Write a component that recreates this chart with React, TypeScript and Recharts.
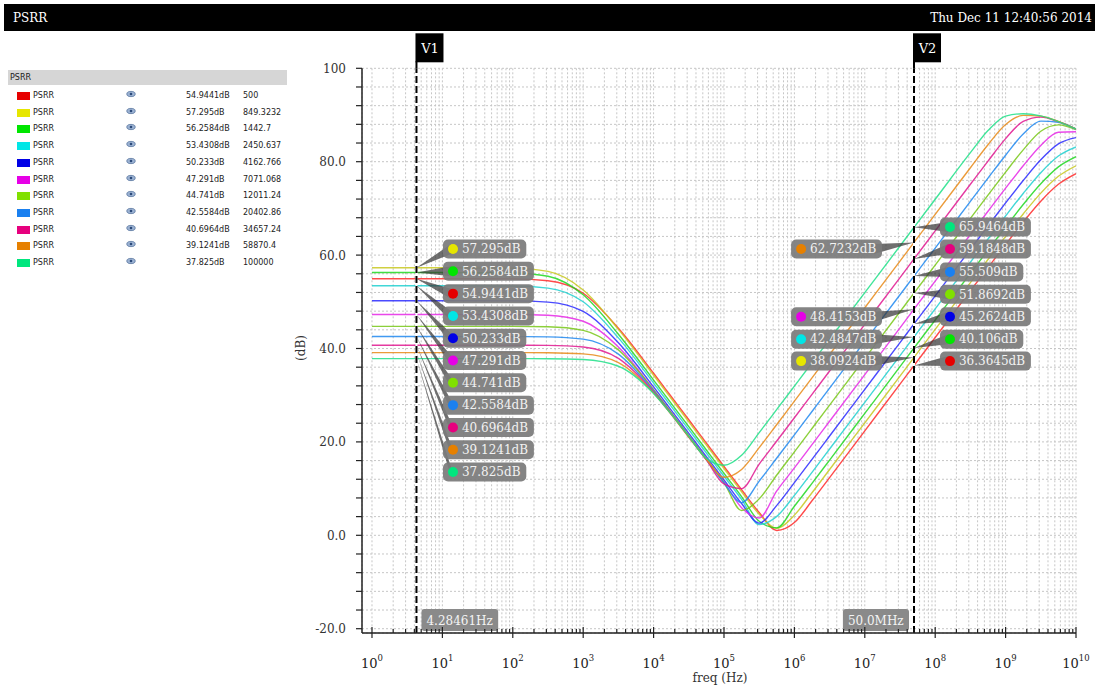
import React from 'react';
import { LineChart, Line, XAxis, YAxis, CartesianGrid, ReferenceLine, ReferenceDot } from 'recharts';

// ---------- data ----------
const freqHz = [1, 10, 100, 316.23, 1000, 3162.3, 10000, 17783, 31623, 56234, 100000, 177828, 316228, 562341,
  1000000, 1778279, 3162278, 10000000, 31622777, 50000000, 100000000, 316227766, 562341325, 1000000000,
  1778279410, 3162277660, 5623413252, 10000000000];

const psrrRed = [54.94, 54.94, 54.90, 54.51, 51.83, 44.34, 34.70, 29.72, 24.74, 19.74, 14.74, 9.75, 4.87, 1.04, 2.74, 7.40, 12.36, 22.36, 32.36, 36.36, 42.36, 52.36, 57.33, 62.27, 67.08, 71.54, 75.16, 77.44];
const psrrYellow = [57.30, 57.30, 57.21, 56.51, 52.54, 44.09, 34.28, 29.30, 24.30, 19.30, 14.30, 9.31, 4.51, 1.50, 4.32, 9.11, 14.09, 24.09, 34.09, 38.09, 44.09, 54.09, 59.06, 64.00, 68.81, 73.27, 76.87, 79.13];
const psrrGreen = [56.26, 56.26, 56.17, 55.47, 51.50, 43.05, 33.24, 28.26, 23.26, 18.26, 13.26, 8.30, 3.00, 1.60, 6.23, 11.12, 16.11, 26.11, 36.11, 40.11, 46.11, 56.11, 61.08, 66.02, 70.83, 75.28, 78.89, 81.07];
const psrrCyan = [53.43, 53.43, 53.38, 52.94, 50.00, 42.28, 32.60, 27.62, 22.63, 17.63, 12.64, 7.71, 2.30, 4.05, 8.54, 13.49, 18.48, 28.48, 38.48, 42.48, 48.48, 58.47, 63.45, 68.39, 73.20, 77.65, 81.21, 83.16];
const psrrBlue = [50.23, 50.23, 50.20, 49.94, 47.95, 41.24, 31.77, 26.81, 21.82, 16.83, 11.85, 6.80, 2.60, 6.40, 11.28, 16.26, 21.26, 31.26, 41.26, 45.26, 51.26, 61.25, 66.23, 71.17, 75.97, 80.41, 83.81, 85.15];
const psrrMagenta = [47.29, 47.29, 47.27, 47.12, 45.83, 40.32, 31.18, 26.26, 21.27, 16.29, 11.34, 5.90, 3.70, 9.53, 14.43, 19.42, 24.42, 34.42, 44.42, 48.42, 54.42, 64.41, 69.39, 74.33, 79.12, 83.48, 86.30, 86.41];
const psrrYellowGreen = [44.74, 44.74, 44.73, 44.65, 43.88, 39.71, 31.14, 26.28, 21.32, 16.33, 11.30, 5.30, 7.80, 12.92, 17.88, 22.87, 27.87, 37.87, 47.87, 51.87, 57.87, 67.87, 72.84, 77.78, 82.53, 86.51, 87.89, 86.87];
const psrrLightBlue = [42.56, 42.56, 42.55, 42.50, 42.00, 38.79, 30.86, 26.06, 21.13, 16.14, 11.20, 7.00, 11.60, 16.55, 21.51, 26.51, 31.51, 41.51, 51.51, 55.51, 61.51, 71.51, 76.48, 81.39, 85.93, 88.69, 88.45, 86.97];
const psrrPink = [40.70, 40.70, 40.70, 40.66, 40.32, 37.89, 30.65, 25.95, 21.05, 16.15, 11.00, 10.00, 15.25, 20.20, 25.18, 30.18, 35.18, 45.18, 55.18, 59.18, 65.18, 75.18, 80.13, 84.94, 88.63, 89.55, 88.57, 87.00];
const psrrOrange = [39.12, 39.12, 39.12, 39.09, 38.85, 37.00, 30.48, 25.91, 21.05, 16.23, 12.42, 14.10, 18.76, 23.72, 28.72, 33.72, 38.72, 48.72, 58.72, 62.72, 68.72, 78.71, 83.63, 87.95, 89.92, 89.75, 88.62, 87.00];
const psrrMint = [37.83, 37.83, 37.83, 37.81, 37.64, 36.20, 30.37, 25.94, 21.17, 16.47, 15.00, 17.14, 21.98, 26.95, 31.95, 36.95, 41.95, 51.95, 61.95, 65.95, 71.95, 81.93, 86.66, 89.76, 90.28, 89.80, 88.60, 87.00];

const seriesData = [psrrRed, psrrYellow, psrrGreen, psrrCyan, psrrBlue, psrrMagenta, psrrYellowGreen, psrrLightBlue, psrrPink, psrrOrange, psrrMint];

// marker readouts
const markerV1 = [54.9441, 57.295, 56.2584, 53.4308, 50.233, 47.291, 44.741, 42.5584, 40.6964, 39.1241, 37.825];
const markerV2 = [36.3645, 38.0924, 40.106, 42.4847, 45.2624, 48.4153, 51.8692, 55.509, 59.1848, 62.7232, 65.9464];
const sweepParam = ['500', '849.3232', '1442.7', '2450.637', '4162.766', '7071.068', '12011.24', '20402.86', '34657.24', '58870.4', '100000'];

const V1_FREQ = 4.28461;
const V2_FREQ = 50000000;
const V1_TEXT = '4.28461Hz';
const V2_TEXT = '50.0MHz';

const decades = [1, 10, 100, 1000, 10000, 100000, 1000000, 10000000, 100000000, 1000000000];
const yTicks = [-20, -16, -12, -8, -4, 0, 4, 8, 12, 16, 20, 24, 28, 32, 36, 40, 44, 48, 52, 56, 60, 64, 68, 72, 76, 80, 84, 88, 92, 96, 100];

// ---------- styles / layout ----------
const lineColors = ['#ff2a2a', '#c8c820', '#20d820', '#20d0d0', '#2a2aff', '#e628e6', '#78c818', '#2088f0', '#e01890', '#e88a18', '#20e088'];
const swatchColors = ['#e60000', '#e6e600', '#00e600', '#00e6e6', '#0000e6', '#e600e6', '#80e000', '#1a80f0', '#e6007e', '#e68000', '#00e67e'];
const X_DOMAIN: [number, number] = [0.7213, 10000000000];
const Y_DOMAIN: [number, number] = [-20.92, 100];
const SERIF = 'DejaVu Serif';

const V1_LABEL_F = 10.2;
const V2_RIGHT_F = 117000000;
const V2_LEFT_F = 17550000;
const V1_ROW_TOP = 61.3;
const ROW_STEP = 4.775;
const V2_ROWS = [66.0, 61.3, 56.4, 51.6, 46.8, 42.0, 37.3];
const v2Side = ['right', 'left', 'right', 'left', 'right', 'left', 'right', 'right', 'right', 'left', 'right'];
const v2Row = [6, 6, 5, 5, 4, 4, 3, 2, 1, 1, 0];

const xTicks: number[] = [];
decades.forEach((d) => { for (let k = 1; k <= 9; k++) xTicks.push(d * k); });
xTicks.push(10000000000);

const rows = freqHz.map((f, i) => {
  const r: any = { f };
  seriesData.forEach((s, k) => { r['s' + k] = s[i]; });
  return r;
});

const CHAR_W: Record<string, number> = { '.': 3.8, d: 7.7, B: 8.8, H: 10.4, z: 6.9, M: 12.2 };
const textW = (s: string) => Array.from(s).reduce((a, c) => a + (CHAR_W[c] ?? 7.6), 0);

const XTick = (props: any) => {
  const { x, y, payload } = props;
  const v = payload.value;
  const e = Math.round(Math.log10(v));
  const isDecade = Math.abs(v - Math.pow(10, e)) < 1e-6 * v;
  return (
    <g>
      <line x1={x} x2={x} y1={isDecade ? y - 6 : y - 4} y2={isDecade ? y + 5 : y} stroke="#222" strokeWidth={1.2} />
      {isDecade && (
        <text x={x} y={y + 35} textAnchor="middle" fontFamily={SERIF} fontSize={13} fill="#222">
          <tspan>10</tspan>
          <tspan dy={-7} fontSize={8.5}>{e}</tspan>
        </text>
      )}
    </g>
  );
};

const YTick = (props: any) => {
  const { x, y, payload } = props;
  const v = payload.value;
  return (
    <g>
      <line x1={x - 6} x2={x} y1={y} y2={y} stroke="#222" strokeWidth={1.2} />
      {v % 20 === 0 && (
        <text x={x - 16} y={y + 4.5} textAnchor="end" fontFamily={SERIF} fontSize={12} fill="#333">
          {v === 100 ? '100' : v.toFixed(1)}
        </text>
      )}
    </g>
  );
};

const makeWedge = (side: string) => (p: any) => {
  const { x1, y1, x2, y2 } = p;
  const bx = side === 'right' ? x2 + 8 : x2 - 8;
  return <polygon points={`${x1},${y1} ${bx},${y2 - 5} ${bx},${y2 + 5}`} fill="rgba(55,55,55,0.72)" />;
};

const makeBox = (k: number, side: string, text: string) => (p: any) => {
  const { cx, cy } = p;
  const w = 19 + textW(text) + 6;
  const left = side === 'right' ? cx : cx - w;
  return (
    <g>
      <rect x={left} y={cy - 9.5} width={w} height={19} rx={5} fill="#7b7b7b" fillOpacity={0.93} />
      <circle cx={left + 10} cy={cy} r={5} fill={swatchColors[k]} />
      <text x={left + 19} y={cy + 4.3} fontFamily={SERIF} fontSize={12} fill="#f2f2f2">{text}</text>
    </g>
  );
};

const makeTab = (name: string) => (p: any) => {
  const { cx, cy } = p;
  return (
    <g>
      <line x1={cx} x2={cx} y1={cy - 7} y2={cy} stroke="#000" strokeWidth={2} />
      <rect x={cx - 1} y={cy - 35} width={28} height={29} fill="#000" />
      <text x={cx + 13.5} y={cy - 15} textAnchor="middle" fontFamily={SERIF} fontSize={13} fill="#fff">{name}</text>
    </g>
  );
};

const makeBottom = (text: string, side: string) => (p: any) => {
  const { cx, cy } = p;
  const w = textW(text) + 10;
  const left = side === 'right' ? cx + 5 : cx - 5 - w;
  return (
    <g>
      <rect x={left} y={cy - 24} width={w} height={22} rx={3} fill="#8a8a8a" />
      <text x={left + 5} y={cy - 8.5} fontFamily={SERIF} fontSize={12} fill="#f4f4f4">{text}</text>
    </g>
  );
};

const v1Order = markerV1.map((v, k) => k).sort((a, b) => markerV1[b] - markerV1[a]);

function Legend() {
  return (
    <div style={{ position: 'absolute', left: 8, top: 70, width: 279, fontFamily: 'DejaVu Sans', fontSize: 8, color: '#222', lineHeight: '1' }}>
      <div style={{ position: 'absolute', left: 0, top: 0, width: 279, height: 15, background: '#d6d6d6' }}>
        <span style={{ position: 'absolute', left: 2, top: 4 }}>PSRR</span>
      </div>
      {markerV1.map((v, k) => {
        const top = 26 + k * 16.7;
        return (
          <div key={k} style={{ position: 'absolute', left: 0, top, width: 279, height: 10 }}>
            <div style={{ position: 'absolute', left: 9, top: -4, width: 13, height: 8, background: swatchColors[k] }} />
            <span style={{ position: 'absolute', left: 25, top: -4 }}>PSRR</span>
            <svg style={{ position: 'absolute', left: 118, top: -6 }} width={10} height={8}>
              <ellipse cx={5} cy={4} rx={4.2} ry={2.6} fill="#9db3d3" stroke="#56739e" strokeWidth={0.8} />
              <circle cx={5} cy={4} r={1.3} fill="#2b4a7a" />
            </svg>
            <span style={{ position: 'absolute', left: 178, top: -4 }}>{v + 'dB'}</span>
            <span style={{ position: 'absolute', left: 235, top: -4 }}>{sweepParam[k]}</span>
          </div>
        );
      })}
    </div>
  );
}

export default function App() {
  return (
    <div style={{ position: 'absolute', left: 0, top: 0, width: 1099, height: 689, background: '#fff', overflow: 'hidden' }}>
      <LineChart width={1099} height={689} data={rows} margin={{ top: 68.3, right: 23, bottom: 16, left: 302 }}>
        <CartesianGrid stroke="#c6c6c6" strokeDasharray="2 2" />
        <XAxis dataKey="f" type="number" scale="log" domain={X_DOMAIN} allowDataOverflow ticks={xTicks} interval={0}
          tick={(p: any) => <XTick {...p} />} tickLine={false} tickSize={0} tickMargin={0}
          axisLine={{ stroke: '#222', strokeWidth: 1.5 }} height={40} />
        <YAxis type="number" domain={Y_DOMAIN} allowDataOverflow ticks={yTicks} interval={0}
          tick={(p: any) => <YTick {...p} />} tickLine={false} tickSize={0} tickMargin={0}
          axisLine={{ stroke: '#222', strokeWidth: 1.5 }} width={60} />
        {seriesData.map((_, k) => (
          <Line key={k} dataKey={'s' + k} stroke={lineColors[k]} strokeWidth={1.4} strokeOpacity={0.85}
            dot={false} type="monotone" isAnimationActive={false} />
        ))}
        <ReferenceLine x={V1_FREQ} stroke="#fff" strokeWidth={2} />
        <ReferenceLine x={V1_FREQ} stroke="#000" strokeWidth={2} strokeDasharray="7 3" />
        <ReferenceLine x={V2_FREQ} stroke="#fff" strokeWidth={2} />
        <ReferenceLine x={V2_FREQ} stroke="#000" strokeWidth={2} strokeDasharray="7 3" />
        <ReferenceDot x={V1_FREQ} y={Y_DOMAIN[1]} ifOverflow="visible" shape={makeTab('V1')} />
        <ReferenceDot x={V2_FREQ} y={Y_DOMAIN[1]} ifOverflow="visible" shape={makeTab('V2')} />
        <ReferenceDot x={V1_FREQ} y={Y_DOMAIN[0]} ifOverflow="visible" shape={makeBottom(V1_TEXT, 'right')} />
        <ReferenceDot x={V2_FREQ} y={Y_DOMAIN[0]} ifOverflow="visible" shape={makeBottom(V2_TEXT, 'left')} />
        {v1Order.map((k, i) => (
          <ReferenceLine key={'w1' + k} segment={[{ x: V1_FREQ, y: markerV1[k] }, { x: V1_LABEL_F, y: V1_ROW_TOP - i * ROW_STEP }]}
            shape={makeWedge('right')} ifOverflow="visible" />
        ))}
        {markerV2.map((v, k) => (
          <ReferenceLine key={'w2' + k} segment={[{ x: V2_FREQ, y: v }, { x: v2Side[k] === 'right' ? V2_RIGHT_F : V2_LEFT_F, y: V2_ROWS[v2Row[k]] }]}
            shape={makeWedge(v2Side[k])} ifOverflow="visible" />
        ))}
        {v1Order.map((k, i) => (
          <ReferenceDot key={'b1' + k} x={V1_LABEL_F} y={V1_ROW_TOP - i * ROW_STEP} ifOverflow="visible"
            shape={makeBox(k, 'right', markerV1[k] + 'dB')} />
        ))}
        {markerV2.map((v, k) => (
          <ReferenceDot key={'b2' + k} x={v2Side[k] === 'right' ? V2_RIGHT_F : V2_LEFT_F} y={V2_ROWS[v2Row[k]]} ifOverflow="visible"
            shape={makeBox(k, v2Side[k], v + 'dB')} />
        ))}
      </LineChart>

      <div style={{ position: 'absolute', left: 4, top: 4, width: 1091, height: 27, background: '#000', fontFamily: SERIF, fontSize: 12, color: '#fff', lineHeight: '1' }}>
        <span style={{ position: 'absolute', left: 9, top: 8 }}>PSRR</span>
        <span style={{ position: 'absolute', right: 3, top: 8 }}>Thu Dec 11 12:40:56 2014</span>
      </div>

      <Legend />

      <div style={{ position: 'absolute', left: 281, top: 340, width: 40, height: 16, textAlign: 'center', transform: 'rotate(-90deg)', fontFamily: SERIF, fontSize: 12, color: '#333', lineHeight: '16px' }}>(dB)</div>
      <div style={{ position: 'absolute', left: 670, top: 672, width: 100, textAlign: 'center', fontFamily: SERIF, fontSize: 12, color: '#333', lineHeight: '1' }}>freq (Hz)</div>
    </div>
  );
}
